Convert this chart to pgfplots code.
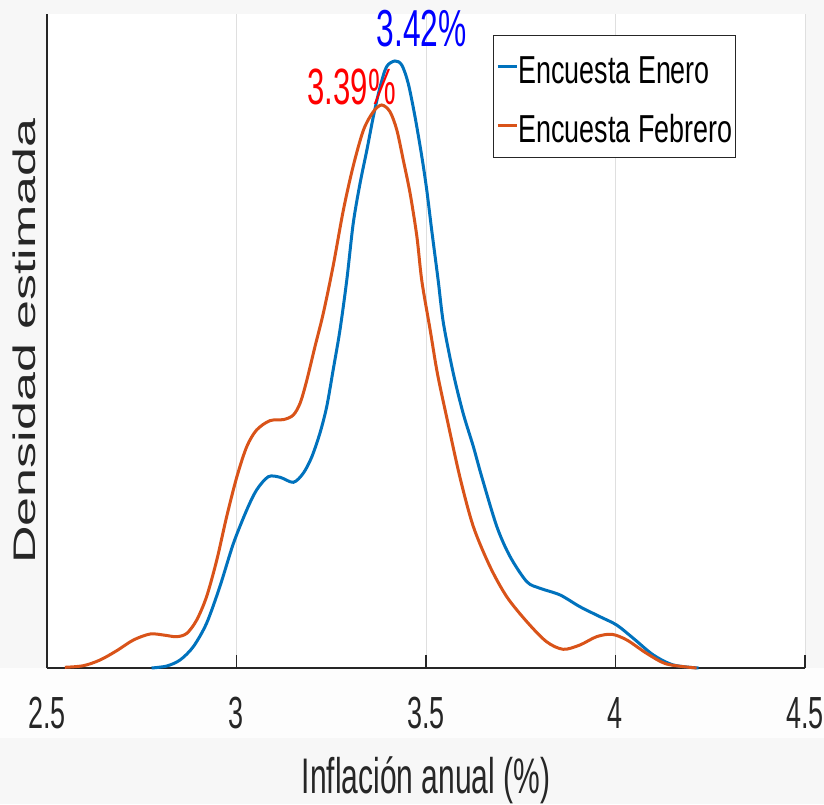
\documentclass[border=0pt]{standalone}
\usepackage{pgfplots}
\pgfplotsset{compat=1.18}
\usepackage{graphicx}
\usepackage{fontspec}
\setmainfont{Liberation Sans}
\definecolor{mblue}{RGB}{0,114,189}
\definecolor{morange}{RGB}{217,83,25}
\definecolor{axcol}{RGB}{38,38,38}
\definecolor{gridcol}{RGB}{223,223,223}
\definecolor{bgcol}{RGB}{247,247,247}
\definecolor{stripcol}{RGB}{253,253,253}
\begin{document}
\begin{tikzpicture}[x=1pt,y=1pt]
\fill[bgcol] (0,0) rectangle (824,804);
\fill[stripcol] (0,66) rectangle (824,136);
\begin{axis}[
  at={(47pt,136pt)}, anchor=south west,
  width=758pt, height=654pt, scale only axis,
  xmin=2.5, xmax=4.5, ymin=0, ymax=654,
  clip=false,
  axis lines=left,
  axis line style={-, draw=axcol, line width=1.2pt},
  axis background/.style={fill=white},
  xtick={2.5,3,3.5,4,4.5},
  xticklabels={\scalebox{0.6}[1]{2.5},\scalebox{0.6}[1]{3},\scalebox{0.6}[1]{3.5},\scalebox{0.6}[1]{4},\scalebox{0.6}[1]{4.5}},
  ytick=\empty,
  tick align=inside, major tick length=13pt,
  tick style={draw=axcol, line width=1.2pt},
  xmajorgrids, grid style={draw=gridcol, line width=1pt},
  xticklabel style={anchor=base, yshift=-60pt, inner sep=0pt, font=\fontsize{45}{45}\selectfont, text=axcol},
  xlabel={\scalebox{0.6}[1]{Inflación anual (\%)}},
  xlabel style={at={(axis description cs:0.5,0)}, anchor=base, yshift=-125pt, inner sep=0pt, font=\fontsize{50}{50}\selectfont, text=axcol},
  ylabel={\scalebox{1}[0.6]{Densidad estimada}},
  ylabel style={at={(axis description cs:-0.01583,0.5)}, anchor=base, inner sep=0pt, font=\fontsize{52}{52}\selectfont, text=axcol},
  every axis plot/.append style={line width=3pt},
  legend style={at={(axis description cs:0.5884,0.9679)}, anchor=north west, draw=axcol, line width=0.8pt, fill=white, inner xsep=3pt, inner ysep=2pt, row sep=0pt, column sep=0pt, font=\fontsize{39}{39}\selectfont, nodes={inner sep=0pt, text height=46pt, text depth=13pt}},
  legend cell align=left,
  legend image code/.code={\path[draw=none,fill=none] (0pt,0pt) rectangle (19pt,10pt); \draw[#1] (0pt,0pt) -- (19pt,0pt);},
]
\addplot[mblue, smooth, tension=0.5] coordinates {
(2.776,0) (2.816,2) (2.851,8) (2.886,21.3) (2.921,44.7) (2.956,81.3) (2.992,124.7)
(3.027,158) (3.053,178) (3.084,191.3) (3.115,190.7) (3.150,185.7) (3.176,194.7)
(3.198,210.5) (3.220,234.7) (3.238,261.3) (3.255,298) (3.273,338) (3.291,388)
(3.308,444.7) (3.326,484.7) (3.344,518) (3.361,551.3) (3.379,581.3) (3.396,601.3)
(3.418,607) (3.436,603) (3.453,584.7) (3.471,551.3) (3.489,511.3) (3.502,478)
(3.515,438) (3.532,388) (3.546,344.7) (3.572,294.7) (3.598,254.7) (3.625,221.3)
(3.647,191.3) (3.687,141.3) (3.722,111.3) (3.766,86.3) (3.801,79.7) (3.854,73)
(3.906,61.3) (3.959,51.3) (4.003,43) (4.047,29.7) (4.100,13) (4.153,3) (4.219,0)
};
\addlegendentry{\scalebox{0.69}[1]{Encuesta Enero}}
\addplot[morange, smooth, tension=0.5] coordinates {
(2.547,0.7) (2.596,2.3) (2.640,8) (2.684,17.3) (2.728,28) (2.772,34) (2.807,33)
(2.842,31.3) (2.869,34.7) (2.895,48) (2.921,71.3) (2.948,108) (2.974,151.3)
(3.001,191.3) (3.027,221.3) (3.053,238) (3.088,247.3) (3.125,248.5) (3.150,253)
(3.168,265) (3.185,287) (3.207,321.3) (3.229,354.7) (3.255,402) (3.282,458)
(3.308,502) (3.335,538) (3.361,556.3) (3.383,563) (3.405,556.3) (3.423,538)
(3.440,508) (3.458,474.7) (3.476,431.3) (3.489,387) (3.511,338) (3.530,294.7)
(3.555,250) (3.590,190) (3.625,141.3) (3.669,101.3) (3.713,71.3) (3.766,46.3)
(3.818,26.3) (3.862,18.7) (3.906,23) (3.950,31.3) (3.990,33.7) (4.030,28)
(4.082,14.7) (4.135,4) (4.214,0)
};
\addlegendentry{\scalebox{0.69}[1]{Encuesta Febrero}}
\node[text=blue, anchor=base, inner sep=0pt, font=\fontsize{52}{52}\selectfont] at (axis cs:3.489,621) {\scalebox{0.61}[1]{3.42\%}};
\node[text=red, anchor=base, inner sep=0pt, font=\fontsize{51}{52}\selectfont] at (axis cs:3.304,563) {\scalebox{0.61}[1]{3.39\%}};
\end{axis}
\pgfresetboundingbox
\useasboundingbox (0,0) rectangle (824,804);
\end{tikzpicture}
\end{document}
